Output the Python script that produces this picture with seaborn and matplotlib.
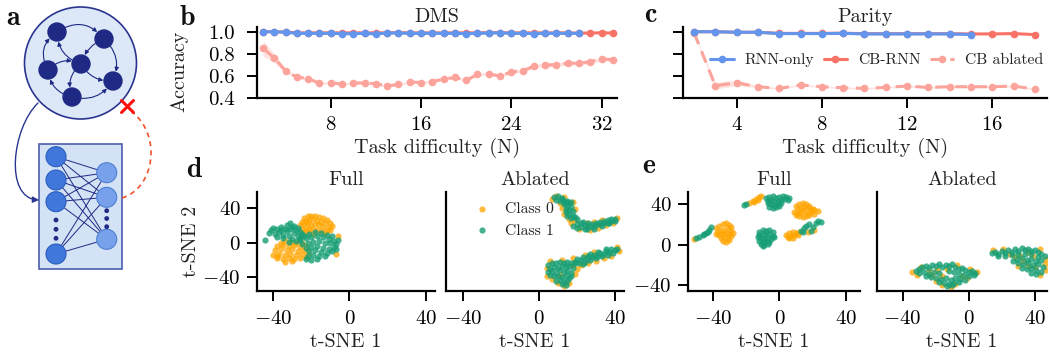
import matplotlib
matplotlib.use("Agg")
import matplotlib.pyplot as plt
import seaborn as sns
from matplotlib.patches import Circle, Rectangle, FancyArrowPatch, PathPatch
from matplotlib.path import Path

# ---------------- data: accuracy curves ----------------
dms_x = list(range(2, 34))
dms_rnn_x = list(range(2, 31))
dms_rnn = [1.0, 1.0, 0.995, 0.985, 0.985, 0.985, 0.985, 0.982, 0.982, 0.985,
           0.98, 0.988, 0.988, 0.985, 0.985, 0.985, 0.985, 0.985, 0.982, 0.985,
           0.988, 0.99, 0.985, 0.985, 0.982, 0.985, 0.985, 0.985, 0.985]
dms_cb = [1.0, 1.0, 0.997, 0.99, 0.99, 0.99, 0.99, 0.99, 0.99, 0.99, 0.99,
          0.99, 0.992, 0.99, 0.99, 0.99, 0.99, 0.99, 0.99, 0.99, 0.992, 0.992,
          0.99, 0.99, 0.99, 0.99, 0.99, 0.99, 0.987, 0.988, 0.99, 0.988]
dms_abl = [0.85, 0.762, 0.645, 0.59, 0.576, 0.533, 0.538, 0.526, 0.536, 0.536,
           0.529, 0.508, 0.524, 0.545, 0.54, 0.548, 0.572, 0.586, 0.56, 0.614,
           0.619, 0.598, 0.637, 0.646, 0.688, 0.697, 0.703, 0.716, 0.714, 0.73,
           0.752, 0.748]
dms_abl_sd = [0.07, 0.04, 0.02, 0.012, 0.012, 0.01, 0.01, 0.01, 0.01, 0.01,
              0.01, 0.01, 0.01, 0.01, 0.01, 0.012, 0.012, 0.012, 0.012, 0.012,
              0.012, 0.012, 0.015, 0.015, 0.018, 0.018, 0.018, 0.018, 0.018,
              0.018, 0.018, 0.018]

par_x = list(range(2, 19))
par_rnn_x = list(range(2, 16))
par_rnn = [1.0, 1.0, 0.995, 0.995, 0.983, 0.983, 0.983, 0.985, 0.98, 0.98,
           0.98, 0.98, 0.98, 0.974]
par_cb = [1.0, 1.0, 0.995, 0.995, 0.985, 0.985, 0.985, 0.987, 0.982, 0.982,
          0.982, 0.982, 0.982, 0.98, 0.98, 0.983, 0.974]
par_abl = [0.99, 0.511, 0.538, 0.502, 0.487, 0.518, 0.502, 0.493, 0.487,
           0.496, 0.508, 0.496, 0.502, 0.502, 0.502, 0.508, 0.481]
par_abl_sd = [0.005, 0.03, 0.025, 0.01, 0.008, 0.008, 0.008, 0.008, 0.008,
              0.008, 0.008, 0.008, 0.008, 0.008, 0.008, 0.008, 0.008]

series_labels = ["RNN-only", "CB-RNN", "CB ablated"]
dms_xticks = [8, 16, 24, 32]
par_xticks = [4, 8, 12, 16]
acc_yticks = [0.4, 0.6, 0.8, 1.0]
tsne_ticks = [-40, 0, 40]
class_labels = ["Class 0", "Class 1"]

# ---------------- data: t-SNE embeddings ----------------
d_full_c0 = [(-24,28),(-22,30),(-20,31),(-18,30),(-16,29),(-14,28),(-12,26),(-10,22),
             (-25,24),(-23,25),(-21,26),(-19,27),(-17,25),(-15,24),(-13,22),(-11,18),
             (-26,20),(-24,21),(-22,22),(-20,20),(-18,21),(-16,20),(-14,18),(-12,14),
             (-25,16),(-23,17),(-21,15),(-19,16),(-17,14),(-15,13),(-13,11),(-22,12),
             (-19,10),(-24,12),(-10,14),(-9,19),
             (-36,0),(-34,2),(-31,1),(-28,0),(-25,-1),(-38,-4),(-35,-3),(-32,-4),
             (-29,-3),(-26,-5),(-23,-4),(-39,-9),(-36,-8),(-33,-9),(-30,-8),(-27,-10),
             (-24,-9),(-40,-14),(-37,-13),(-34,-14),(-31,-13),(-28,-14),(-25,-13),
             (-22,-12),(-38,-18),(-35,-19),(-32,-18),(-29,-19),(-26,-18),(-23,-17),
             (-34,-22),(-30,-21),(-38,-16),(-6,8),(-7,-13)]
d_full_c1 = [(-44.5,3),(-41,14),(-40,17),(-38,15),(-36,18),(-33,20),(-31,22),(-29,19),
             (-27,17),(-39,10),(-37,12),(-35,9),(-33,13),(-31,15),(-29,11),(-27,8),
             (-35,5),(-32,7),(-30,4),(-28,2),(-26,5),(-38,6),(-42,11),(-34,16),
             (-30,18),(-26,12),(-32,1),(-36,14),(-28,14),(-25,10),
             (-24,8),(-21,10),(-18,12),(-15,11),(-12,9),(-26,3),(-23,5),(-20,6),
             (-17,7),(-14,6),(-11,4),(-8,2),(-25,-2),(-22,0),(-19,1),(-16,2),(-13,0),
             (-10,-1),(-7,-2),(-23,-6),(-20,-5),(-17,-4),(-14,-6),(-11,-7),(-8,-5),
             (-21,-10),(-18,-9),(-15,-11),(-12,-12),(-9,-10),(-22,-15),(-19,-14),
             (-16,-16),(-13,-15),(-20,-20),(-17,-19),(-23,-19),(-6,3),(-9,7),(-7,-8)]
d_abl_c0 = [(7,50),(9,54),(13,52),(18,46),(11,45),(12,40),(19,38),(13,33),(19,26),(16,27),
            (17,22),(21,15),(27,14),(31,17),(35,20),(39,23),(41,28),(33,26),(25,23),(29,24),
            (18,-18),(22,-26),(26,-23),(30,-21),(34,-18),(38,-15),(42,-10),(41,-5),(29,-11),
            (24,-14),(4,-29),(6,-21),(12,-20),(18,-26),(20,-30),(19,-36),(16,-46),(10,-47),
            (7,-42),(4,-38),(13,-50),(11,-37)]
d_abl_c1 = [(8,52),(10,53),(12,51),(9,49),(11,48),(13,47),(15,48),(17,47),(16,45),(13,44),
            (15,42),(17,41),(14,39),(16,37),(18,36),(14,35),(16,33),(18,31),(15,30),(17,28),
            (19,29),(20,27),(12,50),(14,46),
            (18,19),(20,17),(20,21),(22,18),(22,22),(24,20),(24,16),(26,19),(26,22),(28,18),
            (28,21),(30,20),(30,23),(32,21),(32,24),(34,22),(34,25),(36,23),(36,26),(38,25),
            (38,27),(40,25),(40,27),(25,15),(29,16),(33,19),(37,22),(23,24),
            (19,-22),(20,-19),(21,-24),(22,-20),(23,-17),(24,-22),(25,-19),(26,-16),(27,-20),
            (28,-17),(29,-14),(30,-18),(31,-15),(32,-12),(33,-16),(34,-13),(35,-10),(36,-14),
            (37,-11),(38,-8),(39,-12),(40,-9),(41,-7),(23,-25),(27,-13),(31,-11),(35,-7),
            (5,-26),(7,-23),(9,-24),(11,-22),(13,-23),(15,-22),(17,-24),(19,-23),(6,-30),
            (8,-28),(10,-29),(12,-27),(14,-28),(16,-27),(18,-29),(5,-34),(7,-33),(9,-35),
            (11,-32),(13,-34),(15,-33),(17,-35),(8,-39),(10,-38),(12,-40),(14,-39),(16,-41),
            (9,-44),(11,-43),(13,-45),(15,-44),(12,-48),(14,-49),(6,-37),(17,-38)]
e_full_c0 = [(-18,41),(-16,43),(-14,45),(-12,47),(-13,44),(-15,42),(-11,48),
             (10,38),(12,40),(14,41),(16,40),(18,38),(11,35),(13,36),(15,37),(17,36),
             (19,35),(21,34),(23,33),(9,32),(11,31),(13,32),(15,33),(17,31),(19,32),
             (21,30),(12,28),(14,27),(16,28),(18,29),(10,29),(20,35),
             (-51,6),
             (-38,16),(-36,18),(-34,20),(-32,21),(-30,19),(-37,13),(-35,14),(-33,15),
             (-31,16),(-29,14),(-36,10),(-34,11),(-32,12),(-30,11),(-28,12),(-35,7),
             (-33,8),(-31,7),(-29,9),(-34,4),(-32,3),(-30,5),(-38,11),(-29,17),
             (4,10),(6,12),(8,13),(10,12),(12,13),(5,8),(7,9),(9,10),(11,10),(6,7),(8,7),
             (17,13),(21,15)]
e_full_c1 = [(-21,39),(-20,40),
             (-8,46),(-6,47),(-4,48),(-2,46),(0,47),(2,48),(4,47),(6,46),(-7,43),(-5,44),
             (-3,43),(-1,42),(1,44),(3,45),(-5,40),(-3,39),(-1,40),(1,41),(-6,37),(-4,36),
             (-2,37),(0,38),(-7,41),(5,44),
             (-50,7),(-48,8),(-46,10),(-44,12),(-42,15),(-41,17),(-45,11),(-43,13),
             (-12,13),(-10,15),(-8,14),(-6,15),(-4,13),(-12,10),(-10,11),(-8,10),(-6,11),
             (-4,9),(-11,7),(-9,6),(-7,7),(-5,6),(-3,8),(-12,4),(-10,3),(-8,4),(-6,3),
             (-11,1),(-9,0),(-7,1),(-10,-1),(-13,8),
             (13,14),(15,16),(16,18),(18,20),(20,17),(22,21),(23,23),(25,22),(19,14),(14,13)]
e_abl_c0 = [(-34,-27),(-31,-30),(-29,-22),(-22,-30),(-19,-25),(-16,-31),(-13,-24),(-7,-20),
            (-4,-31),(1,-24),(5,-27),(-1,-33),(-8,-39),(-16,-40),(-11,-42),(-20,-36),(-24,-26),
            (15,-5),(21,-4),(25,-9),(31,-11),(36,-7),(43,-4),(28,-12),(33,-16),(40,-22),
            (46,-19),(36,-21),(43,-30),(47,-25),(30,-21),(39,-11),(47,-14)]
e_abl_c1 = [(-32,-26),(-30,-24),(-28,-22),(-26,-21),(-24,-23),(-22,-20),(-20,-21),(-18,-19),
            (-16,-22),(-14,-20),(-12,-21),(-10,-19),(-8,-22),(-6,-24),(-4,-23),(-2,-25),
            (0,-27),(2,-26),(4,-28),(-30,-28),(-27,-27),(-24,-29),(-21,-27),(-18,-28),
            (-12,-26),(-9,-27),(-6,-29),(-3,-30),(0,-31),(3,-30),(-20,-33),(-17,-34),
            (-14,-33),(-11,-35),(-8,-33),(-5,-34),(-2,-35),(-18,-37),(-15,-38),(-12,-39),
            (-9,-38),(-6,-37),(-13,-41),(-10,-40),(-26,-31),(-23,-32),
            (14,-8),(16,-7),(18,-9),(20,-6),(22,-8),(24,-5),(26,-7),(28,-4),(30,-6),(32,-3),
            (34,-5),(36,-4),(38,-6),(40,-5),(42,-7),(44,-9),(46,-11),(18,-11),(22,-11),
            (26,-10),(30,-9),(34,-9),(38,-9),(42,-12),(29,-14),(32,-13),(35,-15),(38,-14),
            (41,-16),(44,-15),(30,-18),(33,-19),(36,-18),(39,-20),(42,-19),(45,-22),(32,-23),
            (35,-24),(38,-23),(41,-25),(44,-27),(38,-28),(41,-29),(27,-16)]

# ---------------- style ----------------
sns.set_theme(style="ticks")
plt.rcParams.update({
    "font.family": ["cmr10", "DejaVu Serif"],
    "mathtext.fontset": "cm",
    "axes.formatter.use_mathtext": True,
    "axes.unicode_minus": True,
    "font.size": 14.5,
    "axes.linewidth": 1.6,
    "xtick.major.width": 1.4, "ytick.major.width": 1.4,
    "xtick.major.size": 7, "ytick.major.size": 7,
    "xtick.labelsize": 15, "ytick.labelsize": 15,
    "axes.labelsize": 14.5, "axes.titlesize": 14.5,
    "axes.edgecolor": "black",
    "xtick.color": "black", "ytick.color": "black",
    "text.color": "#222222", "axes.labelcolor": "#222222",
})

C_RNN = "#6495ED"
C_CB = "#F87268"
C_ABL = "#FCA49B"
C_C0 = "#FFA500"
C_C1 = "#169E75"

W, H = 1050, 352
fig = plt.figure(figsize=(W / 100, H / 100), dpi=100)


def px_axes(l, t, r, b, **kw):
    return fig.add_axes([l / W, 1 - b / H, (r - l) / W, (b - t) / H], **kw)


def draw_acc(ax, x_all, x_rnn, rnn, cb, abl, sd):
    lo = [m - s for m, s in zip(abl, sd)]
    hi = [m + s for m, s in zip(abl, sd)]
    ax.fill_between(x_all, lo, hi, color=C_ABL, alpha=0.3, lw=0, zorder=1)
    sns.lineplot(x=x_all, y=abl, ax=ax, color=C_ABL, marker="o", markersize=5.5,
                 markeredgewidth=0, linewidth=2.2, linestyle=(0, (4, 2.5)),
                 label=series_labels[2], zorder=2)
    sns.lineplot(x=x_all, y=cb, ax=ax, color=C_CB, marker="o", markersize=5.5,
                 markeredgewidth=0, linewidth=2.2, label=series_labels[1], zorder=3)
    sns.lineplot(x=x_rnn, y=rnn, ax=ax, color=C_RNN, marker="o", markersize=5.5,
                 markeredgewidth=0, linewidth=2.2, label=series_labels[0], zorder=4)
    ax.set_ylim(0.4, 1.04)
    ax.set_yticks(acc_yticks)
    ax.set_xlabel("Task difficulty (N)", labelpad=3)
    ax.tick_params(axis="x", pad=6)
    ax.tick_params(axis="y", pad=9)
    sns.despine(ax=ax)


# ---- panel b ----
axb = px_axes(257, 27.3, 617, 98)
draw_acc(axb, dms_x, dms_rnn_x, dms_rnn, dms_cb, dms_abl, dms_abl_sd)
axb.set_xlim(1.47, 33.36)
axb.set_xticks(dms_xticks)
axb.yaxis.set_major_formatter(matplotlib.ticker.FormatStrFormatter("%.1f"))
axb.set_ylabel("Accuracy")
axb.yaxis.set_label_coords(-0.19, 0.38)
axb.set_title("DMS", pad=4)
axb.get_legend().remove()

# ---- panel c ----
axc = px_axes(683, 27.3, 1047, 98)
draw_acc(axc, par_x, par_rnn_x, par_rnn, par_cb, par_abl, par_abl_sd)
axc.set_xlim(1.48, 18.57)
axc.set_xticks(par_xticks)
axc.set_yticklabels([])
axc.set_ylabel("")
axc.set_title("Parity", pad=4)
hs, ls = axc.get_legend_handles_labels()
order = [ls.index(s) for s in series_labels]
axc.get_legend().remove()
fig.legend([hs[i] for i in order], [ls[i] for i in order], loc="center left",
           bbox_to_anchor=(710 / W, 1 - 60 / H), ncol=3, frameon=False,
           fontsize=11.3, handlelength=1.5, handletextpad=0.7, columnspacing=0.6,
           borderpad=0, borderaxespad=0)


# ---- t-SNE panels ----
def draw_tsne(ax, c0, c1, title):
    sns.scatterplot(x=[p[0] for p in c0], y=[p[1] for p in c0], ax=ax, color=C_C0,
                    s=20, alpha=0.75, linewidth=0, label=class_labels[0])
    sns.scatterplot(x=[p[0] for p in c1], y=[p[1] for p in c1], ax=ax, color=C_C1,
                    s=20, alpha=0.8, linewidth=0, label=class_labels[1])
    ax.set_xticks(tsne_ticks)
    ax.set_yticks(tsne_ticks)
    ax.set_xlabel("t-SNE 1", labelpad=3)
    ax.set_title(title, pad=5)
    ax.tick_params(axis="x", pad=7)
    ax.tick_params(axis="y", pad=5)
    sns.despine(ax=ax)


axd1 = px_axes(257.3, 191.7, 435, 291)
draw_tsne(axd1, d_full_c0, d_full_c1, "Full")
axd1.set_xlim(-48.4, 44.9)
axd1.set_ylim(-55.7, 58.4)
axd1.set_ylabel("t-SNE 2", labelpad=2)
axd1.get_legend().remove()

axd2 = px_axes(445.7, 191.7, 623.7, 291)
draw_tsne(axd2, d_abl_c0, d_abl_c1, "Ablated")
axd2.set_xlim(-48.9, 44.5)
axd2.set_ylim(-55.7, 58.4)
axd2.set_yticklabels([])
axd2.tick_params(axis="y", length=0)
axd2.set_ylabel("")
axd2.legend(loc="center left", bbox_to_anchor=(466 / W, 1 - 220 / H),
            bbox_transform=fig.transFigure, frameon=False, fontsize=11.3,
            handletextpad=0.5, labelspacing=0.45, borderpad=0, borderaxespad=0,
            markerscale=1.0)

axe1 = px_axes(688.3, 191.7, 860, 291)
draw_tsne(axe1, e_full_c0, e_full_c1, "Full")
axe1.set_xlim(-54.6, 48.4)
axe1.set_ylim(-46, 52.5)
axe1.set_ylabel("")
axe1.get_legend().remove()

axe2 = px_axes(877.3, 191.7, 1047, 291)
draw_tsne(axe2, e_abl_c0, e_abl_c1, "Ablated")
axe2.set_xlim(-55.3, 47.4)
axe2.set_ylim(-46, 52.5)
axe2.set_yticklabels([])
axe2.tick_params(axis="y", length=0)
axe2.set_ylabel("")
axe2.get_legend().remove()

# ---- panel letters ----
for letter, x, y in [("a", 6, 25), ("b", 180, 25), ("c", 644, 22), ("d", 186, 177),
                     ("e", 642, 173)]:
    fig.text(x / W, 1 - y / H, letter, family="cmb10", fontsize=20, ha="left",
             va="baseline", color="#111111")

# ---- panel a: schematic ----
axa = fig.add_axes([0, 0, 180 / W, 1], zorder=-1)
axa.set_xlim(0, 180)
axa.set_ylim(352, 0)
axa.axis("off")
navy = "#1F2A85"
axa.add_patch(Circle((80.5, 63), 56, fc="#DCE7F7", ec="#2A3590", lw=1.2, zorder=1))
N = {1: (57, 32), 2: (104, 39), 3: (81, 64), 4: (48, 70), 5: (113, 81), 6: (72, 97)}
for p in N.values():
    axa.add_patch(Circle(p, 9, fc=navy, ec=navy, zorder=3))
for a, b, rad in [(1, 2, -0.45), (2, 5, -0.35), (2, 3, 0.25), (3, 1, -0.35),
                  (4, 1, -0.45), (4, 3, -0.35), (3, 6, 0.35), (6, 4, -0.35),
                  (6, 5, 0.35), (3, 5, 0.3)]:
    axa.add_patch(FancyArrowPatch(N[a], N[b], connectionstyle=f"arc3,rad={rad}",
                                  arrowstyle="-|>", mutation_scale=6, color=navy,
                                  lw=0.8, shrinkA=7, shrinkB=7, zorder=2))
axa.add_patch(Rectangle((39, 143.5), 83, 125, fc="#D3E2F5", ec="#4C5DB0", lw=1.2,
                        zorder=1))
left_nodes = [(56, 156.7), (56, 180), (56, 201.7), (56, 254)]
right_nodes = [(106.7, 172.7), (106.7, 197.3), (106.7, 239.3)]
for lp in left_nodes:
    for rp in right_nodes:
        axa.plot([lp[0], rp[0]], [lp[1], rp[1]], color=navy, lw=0.7, zorder=2)
for p in left_nodes:
    axa.add_patch(Circle(p, 10, fc="#3F78DA", ec="#2D5DBE", lw=0.8, zorder=3))
for p in right_nodes:
    axa.add_patch(Circle(p, 10, fc="#77A2EB", ec="#4F7FD2", lw=0.8, zorder=3))
for p in [(56, 220), (56, 229.3), (56, 238.3), (106.7, 210.7), (106.7, 218.5),
          (106.7, 226.7)]:
    axa.add_patch(Circle(p, 2.4, fc=navy, ec="none", zorder=3))
blue_path = Path([(38, 103), (12, 128), (4, 198), (39, 200)],
                 [Path.MOVETO, Path.CURVE4, Path.CURVE4, Path.CURVE4])
axa.add_patch(FancyArrowPatch(path=blue_path, arrowstyle="-|>", mutation_scale=9,
                              color="#2A3590", lw=1.0, zorder=2))
red_path = Path([(122, 198), (155, 188), (162, 135), (132, 112)],
                [Path.MOVETO, Path.CURVE4, Path.CURVE4, Path.CURVE4])
axa.add_patch(PathPatch(red_path, fc="none", ec="#F0502A", ls=(0, (3, 2.5)), lw=1.2,
                        zorder=2))
axa.plot([121.5, 133.5], [100.5, 112.5], color="#FF1010", lw=2.2, zorder=4)
axa.plot([121.5, 133.5], [112.5, 100.5], color="#FF1010", lw=2.2, zorder=4)

fig.savefig("out.png", dpi=100)
